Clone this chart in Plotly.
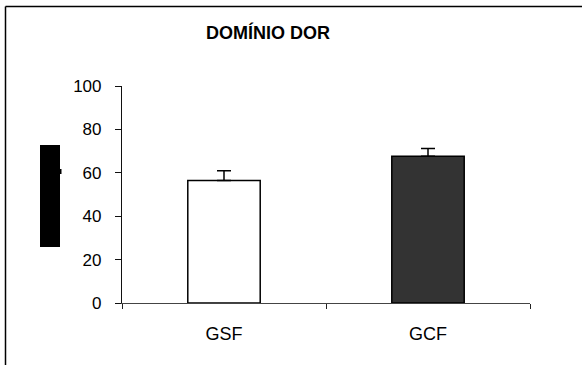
import plotly.graph_objects as go

categories = ["GSF", "GCF"]
values = [56.4, 67.6]
errors = [4.6, 3.6]
bar_colors = ["#ffffff", "#333333"]
title_text = "DOMÍNIO DOR"
y_ticks = [0, 20, 40, 60, 80, 100]

W, H = 582, 365
L, R, T, B = 122, 52, 86, 62
pw, ph = W - L - R, H - T - B

def px(x):
    return (x - L) / pw

def py(y):
    return (H - B - y) / ph

fig = go.Figure()
fig.add_trace(go.Bar(
    x=categories, y=values,
    marker=dict(color=bar_colors, line=dict(color="#000000", width=1.5)),
    width=0.355,
    error_y=dict(type="data", array=errors, visible=True, symmetric=False,
                 arrayminus=[0, 0], color="#000000", thickness=1.5, width=7),
    showlegend=False,
))

fig.update_layout(
    width=W, height=H,
    margin=dict(l=L, r=R, t=T, b=B, pad=0),
    paper_bgcolor="#ffffff", plot_bgcolor="#ffffff",
    font=dict(family="Liberation Sans, Arial", color="#000000", size=16),
    title=dict(text=f"<b>{title_text}</b>", xref="container", x=268 / W,
               xanchor="center", yref="container",
               y=1 - 33 / H, yanchor="middle", font=dict(size=18)),
    bargap=0.6,
    xaxis=dict(type="category", showline=True, linecolor="#444444", linewidth=1.2,
               ticks="outside", tickson="boundaries", ticklen=5, tickcolor="#222222",
               tickwidth=1, showgrid=False, zeroline=False,
               tickfont=dict(size=18), ticklabelstandoff=14),
    yaxis=dict(range=[0, 100], tickvals=y_ticks, showline=True, linecolor="#111111",
               linewidth=1.2, ticks="outside", ticklen=6, tickcolor="#111111",
               tickwidth=1, showgrid=False, zeroline=False,
               tickfont=dict(size=17), ticklabelstandoff=10),
    shapes=[
        dict(type="line", xref="paper", yref="paper",
             x0=px(5.5), x1=px(W + 5), y0=py(6.5), y1=py(6.5),
             line=dict(color="#000000", width=1.5), layer="above"),
        dict(type="line", xref="paper", yref="paper",
             x0=px(5.5), x1=px(5.5), y0=py(6.5), y1=py(H + 5),
             line=dict(color="#000000", width=1.5), layer="above"),
        dict(type="rect", xref="paper", yref="paper",
             x0=px(40), x1=px(60), y0=py(145), y1=py(247),
             line=dict(width=0), fillcolor="#000000"),
        dict(type="rect", xref="paper", yref="paper",
             x0=px(59), x1=px(61.5), y0=py(169), y1=py(174),
             line=dict(width=0), fillcolor="#000000"),
    ],
)

fig.write_html(
    "out.html",
    config={"displayModeBar": False},
    post_script=(
        "document.body.style.margin='0';"
        "document.body.style.overflow='hidden';"
        "document.documentElement.style.overflow='hidden';"
    ),
)
